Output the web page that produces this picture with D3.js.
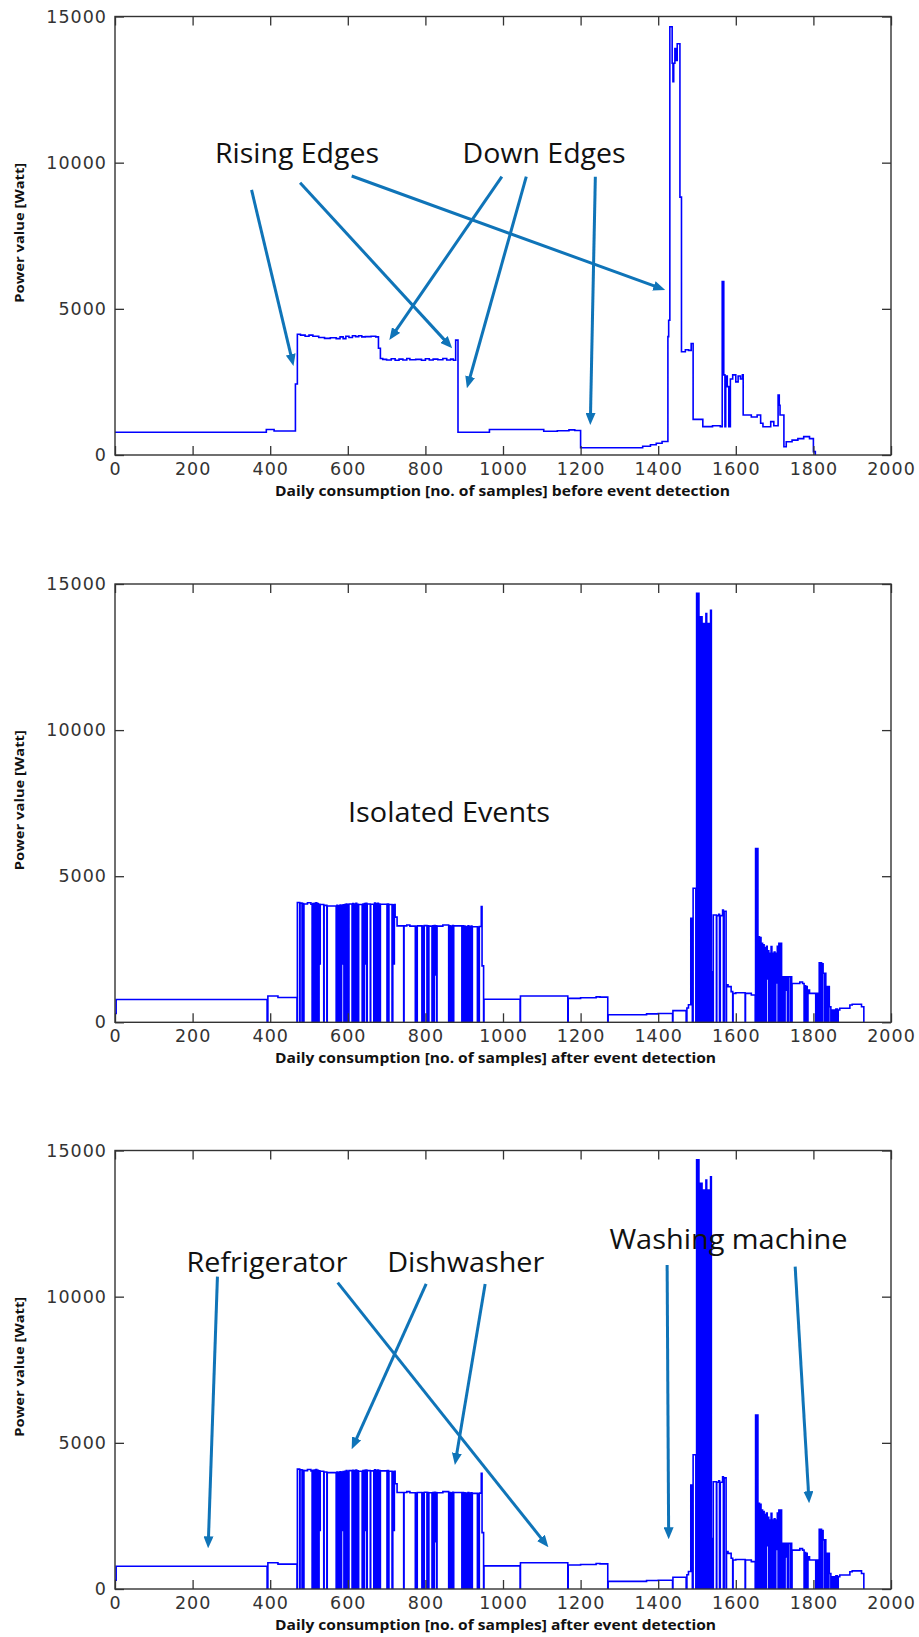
<!DOCTYPE html>
<html><head><meta charset="utf-8">
<script src="https://cdn.jsdelivr.net/npm/d3@7/dist/d3.min.js"></script>
<style>body{margin:0;background:#fff}</style>
</head><body>
<script>
// ---------- data ----------
const xTicks = [0,200,400,600,800,1000,1200,1400,1600,1800,2000];
const yTicks = [0,5000,10000,15000];
const yLabel = "Power value [Watt]";
const xLabels = [
  "Daily consumption [no. of samples] before event detection",
  "Daily consumption [no. of samples] after event detection",
  "Daily consumption [no. of samples] after event detection"
];

// [sample, watt] step series, before event detection
const beforeSeries = [
 [0,780],[390,870],[410,820],[465,2430],[470,4130],[478,4100],[490,4060],[500,4100],[510,4060],[525,4020],
 [540,3990],[555,4010],[570,3980],[580,4040],[588,3980],[595,4060],[603,4020],[612,4080],[620,4050],[628,4080],
 [636,4040],[645,4050],[660,4060],[672,4040],[679,3650],[684,3300],[690,3270],[700,3250],[712,3290],[722,3240],
 [732,3280],[742,3250],[752,3300],[760,3260],[775,3270],[790,3240],[800,3290],[810,3250],[820,3280],[832,3260],
 [845,3300],[855,3250],[865,3280],[872,3240],[878,3930],[884,780],[965,870],[1105,810],[1140,830],[1170,860],
 [1185,840],[1200,250],[1360,300],[1380,350],[1395,400],[1410,460],[1425,4050],[1427,4610],[1430,14650],[1436,13400],
 [1438,12770],[1440,13400],[1443,13900],[1446,13500],[1449,14070],[1456,8820],[1460,3530],[1470,3600],[1478,3580],[1485,3815],
 [1490,1220],[1515,970],[1540,1000],[1560,970],[1565,5930],[1569,2740],[1572,968],[1574,2700],[1578,2340],[1582,968],
 [1586,2600],[1592,2740],[1600,2500],[1606,2700],[1612,2600],[1617,2740],[1619,1368],[1640,1300],[1655,1368],[1664,1084],
 [1670,968],[1690,1140],[1698,1000],[1709,2052],[1712,1700],[1714,1368],[1724,284],[1730,455],[1745,510],[1760,560],
 [1775,627],[1790,560],[1800,114],[1805,0]
];

// [sample, watt] step series, after event detection
const afterSeries = [
 [0,300],[3,780],[392,0],[394,900],[420,850],[469,0],[470,4100],
 [476,0],[477,4080],[482,0],[483,4060],[486,0],[487,4050],[496,4090],[505,4040],
 [508,0],[510,4060],[512,0],[514,4070],[516,0],[518,4090],[520,0],[522,4060],[524,0],[526,4040],[528,2000],[529,4030],
 [538,0],[539,4000],[546,0],[547,3980],
 [570,0],[572,4000],[574,0],[576,3990],[578,0],[580,4010],[582,0],[584,4000],[586,2000],[588,4020],[590,0],[592,4030],
 [594,0],[596,4050],[598,0],[600,4020],[602,0],[603,4050],
 [611,0],[613,4060],[615,0],[617,4050],[619,0],[621,4070],[623,0],[625,4040],[627,0],[628,4030],
 [637,0],[639,4050],[641,0],[643,4060],[645,2000],[647,4070],[649,0],[650,4050],
 [658,0],[659,4040],
 [667,0],[669,4080],[671,0],[673,4060],[675,0],[677,4070],[679,0],[681,4050],[683,0],[684,4040],
 [701,0],[702,4050],[705,0],[706,4030],
 [714,0],[716,4020],[718,2000],[720,4030],[722,3600],[727,3300],
 [744,0],[745,3300],[752,3330],[760,3290],
 [774,0],[776,3280],[778,0],[779,3300],
 [791,0],[793,3290],[795,0],[797,3310],
 [804,0],[806,3300],[808,0],[809,3290],
 [817,0],[819,3300],[821,0],[823,3310],[825,1620],[827,3300],[829,0],[830,3290],
 [845,3330],
 [860,0],[862,3300],[864,0],[866,3290],[868,0],[870,3310],[872,0],[873,3300],
 [894,0],[896,3300],[898,0],[900,3290],[902,0],[904,3280],[906,0],[908,1620],[910,3300],[912,0],[914,3280],
 [916,0],[918,3290],[920,0],[921,3270],
 [934,0],[936,3260],[938,0],[939,3280],[944,3960],[946,1930],[950,0],[951,790],
 [1044,0],[1045,900],[1167,0],[1168,820],[1200,840],[1240,870],[1250,860],[1270,0],[1271,260],[1370,290],
 [1400,300],[1437,0],[1438,400],[1472,0],[1474,490],[1478,600],[1484,3560],[1488,0],[1490,4590],[1497,0],
 [1499,14680],[1501,0],[1503,14680],[1505,0],[1507,13880],[1509,0],[1511,13880],[1513,0],[1515,13650],[1517,0],
 [1519,13650],[1521,0],[1523,13990],[1525,0],[1527,13650],[1529,0],[1531,13650],[1533,0],[1535,14100],[1537,0],
 [1538,1730],[1541,0],[1542,3670],[1550,0],[1551,3650],[1556,3700],[1558,0],[1560,3650],[1566,3840],[1568,0],
 [1570,3800],[1575,0],[1576,1280],[1580,1220],[1588,1050],[1592,0],[1593,990],[1600,1010],[1624,0],[1625,990],
 [1640,935],[1650,0],
 [1651,5950],[1653,0],[1655,5950],[1657,0],[1659,2930],[1661,0],[1663,2900],[1665,0],[1667,2700],[1669,0],
 [1671,2650],[1673,0],[1675,2550],[1677,0],[1679,2600],[1681,1480],[1683,2450],[1685,0],[1687,2360],[1689,0],
 [1691,2590],[1693,0],[1695,2360],[1697,0],[1699,2400],[1701,0],[1703,2360],[1705,1350],[1707,2600],[1709,0],
 [1711,2700],[1713,0],[1715,2700],[1718,0],
 [1719,1560],[1721,0],[1723,1560],[1725,0],[1727,1560],[1729,1100],[1731,1560],[1733,0],[1735,1560],[1740,0],
 [1742,1560],[1744,0],[1745,1330],[1760,1330],[1765,1380],[1772,1330],[1776,0],[1778,1250],[1780,0],[1782,1220],
 [1784,0],[1786,1100],[1790,990],[1800,990],[1806,0],[1808,990],[1812,0],[1815,2040],[1817,0],[1819,2040],
 [1821,0],[1823,2000],[1825,1680],[1828,0],[1830,1680],[1832,1220],[1834,0],[1836,1220],[1838,0],[1840,1220],
 [1841,530],[1845,0],[1847,420],[1850,0],[1852,420],[1856,0],[1858,450],[1862,0],[1864,420],[1868,480],
 [1894,590],[1900,620],[1924,530],[1930,0]
];

// annotations, in data units: label {text, x, y (baseline)} ; arrows [x1,y1,x2,y2]
const notes1 = [{text:"Rising Edges", x:469, y:9990, w:164}, {text:"Down Edges", x:1106, y:9990, w:163}];
const arrows1 = [[352,9066,460,3045],[477,9316,869,3650],[610,9545,1418,5645],
                 [997,9521,707,3934],[1060,9521,907,2282],[1238,9521,1225,1026]];
const notes2 = [{text:"Isolated Events", x:861, y:6863, w:202}];
const arrows2 = [];
const notes3 = [{text:"Refrigerator", x:392, y:10835, w:161}, {text:"Dishwasher", x:904, y:10855, w:157},
                {text:"Washing machine", x:1581, y:11632, w:238}];
const arrows3 = [[264,10684,240,1392],[574,10479,1117,1427],[802,10434,610,4779],
                 [954,10434,876,4242],[1423,11084,1427,1700],[1753,11026,1789,2932]];

// ---------- drawing ----------
const W = 919, H = 1637;
const svg = d3.select("body").append("svg").attr("width", W).attr("height", H)
  .style("font-family", "'DejaVu Sans', sans-serif");

const arrowColor = "#0f74b8";
svg.append("defs").append("marker")
  .attr("id","ah").attr("markerUnits","userSpaceOnUse")
  .attr("viewBox","0 0 12 10").attr("refX",12).attr("refY",5)
  .attr("markerWidth",12).attr("markerHeight",10).attr("orient","auto")
  .append("path").attr("d","M0,0 L12,5 L0,10 Z").attr("fill",arrowColor);

const panels = [
  {top:16.5, bottom:455, series:beforeSeries, xl:xLabels[0], xlw:455, xlc:502.5, notes:notes1, arrows:arrows1},
  {top:584, bottom:1022.3, series:afterSeries, xl:xLabels[1], xlw:441, xlc:495.5, notes:notes2, arrows:arrows2},
  {top:1150.5, bottom:1589, series:afterSeries, xl:xLabels[2], xlw:441, xlc:495.5, notes:notes3, arrows:arrows3}
];
const left = 115, right = 891;

panels.forEach((p, i) => {
  const x = d3.scaleLinear().domain([0,2000]).range([left,right]);
  const y = d3.scaleLinear().domain([0,15000]).range([p.bottom,p.top]);
  const g = svg.append("g");
  const cid = "clip"+i;
  svg.append("clipPath").attr("id",cid).append("rect")
    .attr("x",left).attr("y",p.top).attr("width",right-left).attr("height",p.bottom-p.top);

  // data line
  const line = d3.line().x(d=>x(d[0])).y(d=>y(d[1])).curve(d3.curveStepAfter);
  g.append("path").datum(p.series).attr("d",line).attr("fill","none")
    .attr("stroke","#0000ff").attr("stroke-width",1.6).attr("clip-path",`url(#${cid})`);

  // axes (inward ticks on all sides)
  const axCol = "#333";
  const tl = 9;
  const fmt = d3.format("d");
  const styleAxis = (sel) => {
    sel.select(".domain").remove();
    sel.selectAll(".tick line").attr("stroke",axCol).attr("stroke-width",1.3);
    sel.selectAll(".tick text").attr("fill","#333").attr("font-size","17.5px")
      .attr("letter-spacing","1px").attr("font-family","'DejaVu Sans', sans-serif");
  };
  g.append("g").attr("transform",`translate(0,${p.bottom})`)
    .call(d3.axisBottom(x).tickValues(xTicks).tickFormat(fmt).tickSizeInner(-tl).tickSizeOuter(0).tickPadding(6))
    .call(styleAxis).selectAll(".tick text").attr("dy","0").attr("y",20);
  g.append("g").attr("transform",`translate(0,${p.top})`)
    .call(d3.axisTop(x).tickValues(xTicks).tickSizeInner(-tl).tickSizeOuter(0).tickFormat(""))
    .call(styleAxis);
  g.append("g").attr("transform",`translate(${left},0)`)
    .call(d3.axisLeft(y).tickValues(yTicks).tickFormat(fmt).tickSizeInner(-tl).tickSizeOuter(0).tickPadding(8))
    .call(styleAxis).selectAll(".tick text").attr("x",-8);
  g.append("g").attr("transform",`translate(${right},0)`)
    .call(d3.axisRight(y).tickValues(yTicks).tickSizeInner(-tl).tickSizeOuter(0).tickFormat(""))
    .call(styleAxis);
  g.append("rect").attr("x",left).attr("y",p.top).attr("width",right-left).attr("height",p.bottom-p.top)
    .attr("fill","none").attr("stroke",axCol).attr("stroke-width",1.4);

  // axis titles
  g.append("text").attr("x",p.xlc).attr("y",p.bottom+41).attr("text-anchor","middle")
    .attr("font-family","'Open Sans', sans-serif").attr("font-weight","bold").attr("font-size","14px")
    .attr("textLength",p.xlw).attr("lengthAdjust","spacingAndGlyphs").attr("fill","#111").text(p.xl);
  g.append("text").attr("transform",`translate(24,${(p.top+p.bottom)/2 - 3}) rotate(-90)`)
    .attr("text-anchor","middle").attr("font-family","'Open Sans', sans-serif").attr("font-weight","bold")
    .attr("font-size","13px").attr("textLength",140).attr("lengthAdjust","spacingAndGlyphs")
    .attr("fill","#111").text(yLabel);

  // annotations
  p.notes.forEach(n => {
    g.append("text").attr("x",x(n.x)).attr("y",y(n.y)).attr("text-anchor","middle")
      .attr("font-family","'Open Sans', sans-serif").attr("font-size","28px")
      .attr("textLength",n.w).attr("lengthAdjust","spacingAndGlyphs").attr("fill","#111").text(n.text);
  });
  p.arrows.forEach(a => {
    const x1 = x(a[0]), y1 = y(a[1]), x2 = x(a[2]), y2 = y(a[3]);
    const L = Math.hypot(x2-x1, y2-y1);
    const sh = 6;
    const ex = x2 - (x2-x1)/L*sh, ey = y2 - (y2-y1)/L*sh;
    g.append("line").attr("x1",x1).attr("y1",y1).attr("x2",ex).attr("y2",ey)
      .attr("stroke",arrowColor).attr("stroke-width",3);
    g.append("line").attr("x1",ex).attr("y1",ey).attr("x2",x2).attr("y2",y2)
      .attr("stroke","none").attr("marker-end","url(#ah)");
  });
});
</script>
</body></html>
